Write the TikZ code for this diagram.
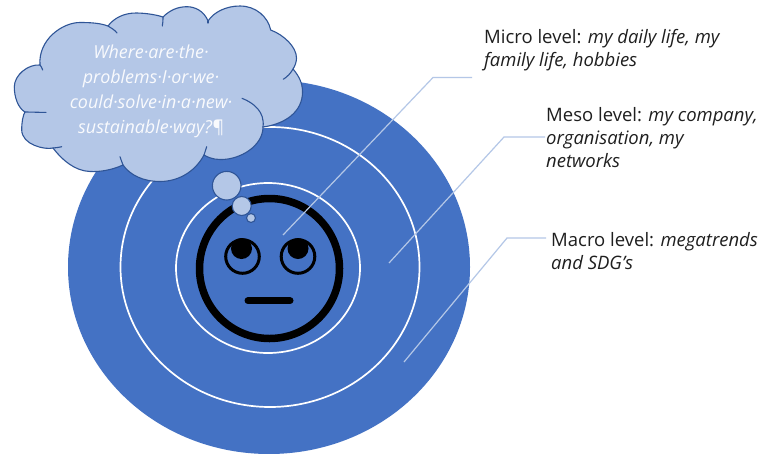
\documentclass[tikz,border=0pt]{standalone}
\usepackage{fontspec}
\setmainfont{Open Sans}
\definecolor{ringblue}{HTML}{4472C4}
\definecolor{cloudfill}{HTML}{B4C7E7}
\definecolor{cloudedge}{HTML}{2F5597}
\definecolor{leadercol}{HTML}{B4C7E7}
\tikzset{
  px/.style={x=1pt,y=-1pt},
  disc/.style={fill=ringblue,draw=none},
  ring/.style={draw=white,line width=1.7pt},
  face/.style={draw=black},
  puff/.style={fill=cloudfill,draw=cloudedge,line width=1.1pt},
  tailline/.style={draw=cloudedge,line width=1.1pt,line cap=round},
  leader/.style={draw=leadercol,line width=1.2pt},
  label/.style={anchor=north west,align=left,inner sep=0pt,text=black!88,font=\fontsize{18.5}{23}\selectfont},
  think/.style={align=center,inner sep=0pt,text=white!92!cloudfill,font=\itshape\fontsize{17.9}{25.2}\selectfont}
}
\begin{document}
\begin{tikzpicture}[px]
\useasboundingbox (0,0) rectangle (762,453);
\fill[white] (0,0) rectangle (762,453);
% target discs
\fill[disc] (269,267) ellipse [x radius=201,y radius=187];
\draw[ring] (270,267) ellipse [x radius=149.5,y radius=140];
\draw[ring] (268,268) ellipse [x radius=92,y radius=85];
% face
\draw[face,line width=7.5pt] (269.5,268.5) circle [radius=70];
\draw[face,line width=3pt] (242.5,256.5) circle [radius=16.8];
\draw[face,line width=3pt] (298,256.5) circle [radius=16.8];
\fill (241.5,248.5) circle [radius=10.5];
\fill (298,248.5) circle [radius=10.5];
\draw[line width=7pt,line cap=round] (248,300.7) -- (290,300.7);
% leader lines
\coordinate (mi0) at (283,235); \coordinate (mi1) at (433,77.5); \coordinate (mi2) at (472,77.5);
\coordinate (me0) at (389,263); \coordinate (me1) at (504,137); \coordinate (me2) at (545,137);
\coordinate (ma0) at (404,362); \coordinate (ma1) at (507,238); \coordinate (ma2) at (546,238);
\draw[leader] (mi0) -- (mi1) -- (mi2);
\draw[leader] (me0) -- (me1) -- (me2);
\draw[leader] (ma0) -- (ma1) -- (ma2);
% cloud
\draw[puff]
 (40,65) .. controls (38,40) and (62,22.5) .. (80,22.5)
 .. controls (90,22.5) and (100,23) .. (108,26)
 .. controls (114,18) and (124,13) .. (136,13)
 .. controls (146,13) and (157,15) .. (163,17)
 .. controls (170,10) and (178,6.7) .. (187,6.7)
 .. controls (195,6.7) and (204,11) .. (208,21)
 .. controls (214,12) and (226,6) .. (240,6)
 .. controls (256,6) and (268,17) .. (270.7,30)
 .. controls (284,35) and (296.5,47) .. (296.5,58)
 .. controls (296.5,62) and (295,66) .. (293,69)
 .. controls (299,76) and (302.5,83) .. (302.5,92)
 .. controls (302.5,112) and (285,124) .. (263,127)
 .. controls (263,146) and (240,160) .. (220,159.5)
 .. controls (213,159.5) and (207,157) .. (204,155)
 .. controls (195,172) and (178,181.5) .. (160,181.5)
 .. controls (143,181.5) and (130,175) .. (123,165)
 .. controls (112,170) and (100,172) .. (90,171.5)
 .. controls (75,171) and (62,160) .. (53,148)
 .. controls (45,150) and (22,145) .. (21.7,130)
 .. controls (21.7,122) and (23,115) .. (25,112)
 .. controls (18,108) and (14.3,97) .. (14.3,87)
 .. controls (14.3,75) and (28,64) .. (40,65) -- cycle;
\draw[tailline] (108,26) .. controls (111,28) and (115,30) .. (117,33);
\draw[tailline] (163,17) .. controls (163,20) and (163,23) .. (162.3,26);
\draw[tailline] (208,21) -- (208,23);
\draw[tailline] (293,69) .. controls (291,73) and (287,77) .. (283.3,79.3);
\draw[tailline] (263,127) .. controls (265,112) and (254,103) .. (242,98.3);
\draw[tailline] (204,155) .. controls (205,152) and (206,149) .. (206.7,146.7);
\draw[tailline] (123,165) .. controls (122,162) and (121,160) .. (120,156.7);
\draw[tailline] (53,148) .. controls (56,148) and (60,147) .. (61.7,146.7);
\draw[tailline] (25,112) .. controls (32,112) and (40,112.5) .. (46,112.3);
\draw[tailline] (40,65) .. controls (41,66) and (42,68) .. (42.7,70);
% thought bubbles
\node[puff,circle,minimum size=28.6pt,inner sep=0pt] (b1) at (226.7,185.7) {};
\node[puff,circle,minimum size=19pt,inner sep=0pt] (b2) at (241.7,206) {};
\node[puff,circle,minimum size=9pt,inner sep=0pt] (b3) at (251,218) {};
% text
\node[think] (q) at (151,91.5) {Where·are·the·\\problems·I·or·we·\\could·solve·in·a·new·\\sustainable·way?¶};
\node[label] (mic) at (484,29.5) {Micro level: \textit{my daily life, my}\\\textit{family life, hobbies}};
\node[label] (mes) at (546,107) {Meso level: \textit{my company,}\\\textit{organisation, my}\\\textit{networks}};
\node[label] (mac) at (551,232) {Macro level: \textit{megatrends}\\\textit{and SDG's}};
\end{tikzpicture}
\end{document}
